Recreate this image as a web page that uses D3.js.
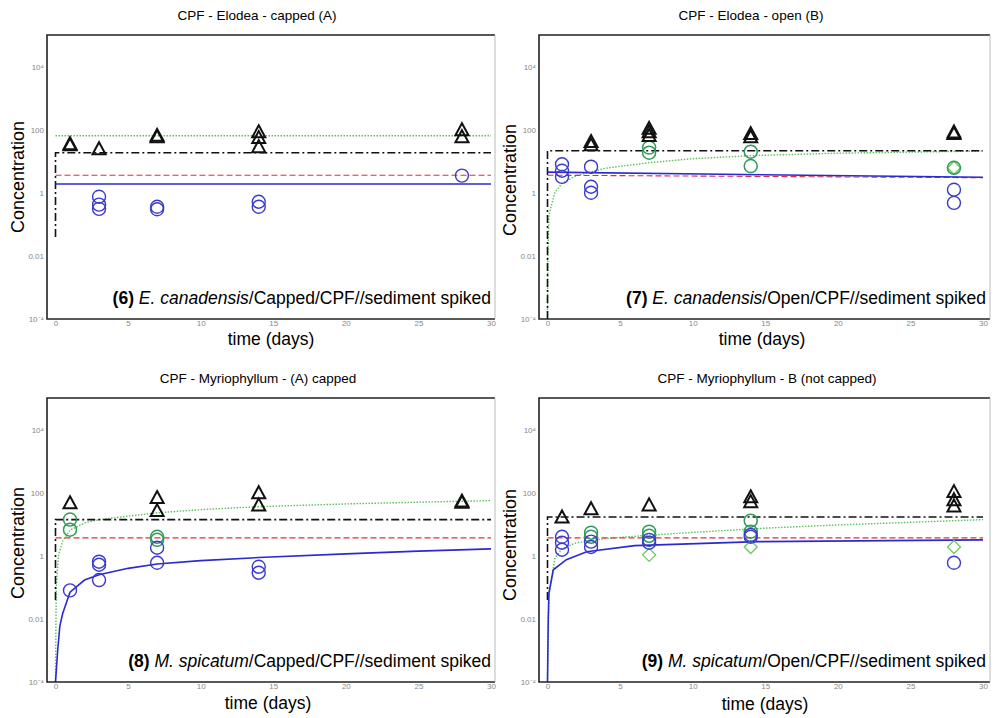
<!DOCTYPE html>
<html>
<head>
<meta charset="utf-8">
<script src="https://cdn.jsdelivr.net/npm/d3@7/dist/d3.min.js"></script>
<style>
  body { margin: 0; background: #fff; }
  text { font-family: "Liberation Sans", Arial, Helvetica, sans-serif; }
</style>
</head>
<body>
<svg id="chart" width="994" height="718"></svg>
<script>
/*--------------------------------------------------------------------------------
----- DATA ([time in days, concentration])
--------------------------------------------------------------------------------*/

// Axis ticks
const xTickValues = [0, 5, 10, 15, 20, 25, 30];
const yTickValues = [1e-4, 0.01, 1, 100, 1e4];
const yTickLabels = ["10⁻⁴", "0.01", "1", "100", "10⁴"];

// Panel texts
const panelTitles = [
    "CPF - Elodea - capped (A)",
    "CPF - Elodea - open (B)",
    "CPF - Myriophyllum -  (A) capped",
    "CPF - Myriophyllum -  B (not capped)"
];
const panelNumbers = ["(6)", "(7)", "(8)", "(9)"];
const panelSpecies = ["E. canadensis", "E. canadensis", "M. spicatum", "M. spicatum"];
const panelRest = ["/Capped/CPF//sediment spiked", "/Open/CPF//sediment spiked",
    "/Capped/CPF//sediment spiked", "/Open/CPF//sediment spiked"];

// (6) Elodea capped
const tri6 = [[1, 33], [1, 36], [3, 25], [7, 60], [7, 66], [14, 29], [14, 56], [14, 86], [28, 60], [28, 100]];
const circ6 = [[3, 0.31], [3, 0.42], [3, 0.75], [7, 0.30], [7, 0.36], [14, 0.36], [14, 0.52], [28, 3.5]];
const gcirc6 = [];
const gdiam6 = [];
const black6 = [[0, 0.04], [0, 18.6], [30, 18.6]];
const red6 = [[0, 3.6], [30, 3.6]];
const blue6 = [[0, 1.9], [30, 1.9]];
const green6 = [[0, 64], [30, 64]];

// (7) Elodea open
const tri7 = [[3, 33], [3, 42], [7, 65], [7, 86], [7, 110], [14, 60], [14, 75], [28, 75], [28, 85]];
const circ7 = [[1, 3.2], [1, 5], [1, 8], [3, 1.0], [3, 1.55], [3, 6.7], [28, 0.48], [28, 1.25]];
const gcirc7 = [[7, 18.6], [7, 27], [14, 7], [14, 20], [28, 6.2]];
const gdiam7 = [[28, 6.2]];
const black7 = [[0, 1e-4], [0, 21.5], [30, 21.5]];
const red7 = [[0, 3.6], [30, 3.0]];
const blue7 = [[0, 4.5], [30, 3.1]];
const green7 = [[0, 1e-4], [0.03, 0.01], [0.1, 0.2], [0.5, 1], [1, 2], [2, 3.5], [4, 6], [7, 9],
    [10, 12], [14, 15], [20, 18], [30, 21]];

// (8) Myriophyllum capped
const tri8 = [[1, 48], [7, 27], [7, 70], [14, 41], [14, 100], [28, 50], [28, 54]];
const circ8 = [[1, 0.08], [3, 0.17], [3, 0.52], [3, 0.65], [7, 0.6], [7, 1.8], [14, 0.29], [14, 0.45]];
const gcirc8 = [[1, 6.7], [1, 14], [7, 3.2], [7, 4]];
const gdiam8 = [];
const black8 = [[0, 0.04], [0, 14], [30, 14]];
const red8 = [[0, 3.7], [30, 3.7]];
const blue8 = [[0, 1e-4], [0.15, 0.001], [0.3, 0.006], [0.5, 0.015], [1, 0.07], [2, 0.17], [3, 0.25],
    [5, 0.4], [7, 0.55], [10, 0.7], [14, 0.88], [20, 1.15], [25, 1.4], [30, 1.65]];
const green8 = [[0, 1e-4], [0.05, 0.1], [0.2, 1], [0.5, 3], [1, 6.5], [2, 11], [3, 14], [5, 18],
    [7, 23], [10, 29], [14, 36], [20, 44], [25, 50], [30, 56]];

// (9) Myriophyllum open
const tri9 = [[1, 17], [3, 31], [7, 41], [14, 52], [14, 74], [28, 38], [28, 60], [28, 108]];
const circ9 = [[1, 1.55], [1, 2.6], [1, 4], [3, 1.9], [3, 2.8], [7, 2.6], [7, 3.2], [14, 4], [14, 4.6], [28, 0.6]];
const gcirc9 = [[3, 4], [3, 5.4], [7, 4.3], [7, 5.8], [14, 5.8], [14, 13]];
const gdiam9 = [[7, 1.07], [14, 1.9], [28, 1.9]];
const black9 = [[0, 0.04], [0, 17], [30, 17]];
const red9 = [[0, 3.7], [30, 3.7]];
const blue9 = [[0, 1e-4], [0.05, 0.01], [0.1, 0.067], [0.4, 0.36], [1.3, 0.75], [2.7, 1.34], [6, 2.1],
    [14.5, 2.8], [30, 3.2]];
const green9 = [[0, 1e-4], [0.1, 0.05], [0.5, 0.8], [1, 1.7], [2, 2.6], [4, 3.5], [7, 4.5], [10, 5.5],
    [15, 7.5], [20, 9.5], [25, 11.5], [30, 14]];

/*--------------------------------------------------------------------------------
----- LAYOUT
--------------------------------------------------------------------------------*/

const panels = [
    { left: 47, top: 35, bottom: 319, right: 495, tri: tri6, circ: circ6, gcirc: gcirc6, gdiam: gdiam6,
      black: black6, red: red6, blue: blue6, green: green6,
      titleX: 257, timeX: 271, timeY: 345, concX: 18, concY: 177 },
    { left: 539, top: 35, bottom: 319, right: 990, tri: tri7, circ: circ7, gcirc: gcirc7, gdiam: gdiam7,
      black: black7, red: red7, blue: blue7, green: green7,
      titleX: 751, timeX: 762, timeY: 345, concX: 510, concY: 180 },
    { left: 47, top: 398, bottom: 682, right: 495, tri: tri8, circ: circ8, gcirc: gcirc8, gdiam: gdiam8,
      black: black8, red: red8, blue: blue8, green: green8,
      titleX: 258, timeX: 268, timeY: 709, concX: 18, concY: 543 },
    { left: 539, top: 398, bottom: 682, right: 990, tri: tri9, circ: circ9, gcirc: gcirc9, gdiam: gdiam9,
      black: black9, red: red9, blue: blue9, green: green9,
      titleX: 767, timeX: 765, timeY: 710, concX: 510, concY: 545 }
];

const svg = d3.select("#chart");

panels.forEach(function (p, i) {
    const g = svg.append("g");

    // Scales for this panel
    const x = d3.scaleLinear().domain([0, 30]).range([p.left + 8.5, p.left + 444]);
    const y = d3.scaleLog().domain([1e-4, 1e5]).range([p.bottom, p.top]);

    // Clip so the model curves stay inside the box
    const clipId = "clip" + i;
    svg.append("clipPath").attr("id", clipId)
        .append("rect")
        .attr("x", p.left).attr("y", p.top)
        .attr("width", p.right - p.left).attr("height", p.bottom - p.top);

    // Title
    g.append("text")
        .attr("x", p.titleX)
        .attr("y", p.top - 15)
        .attr("text-anchor", "middle")
        .style("font-size", "13.5px")
        .text(panelTitles[i]);

    // Axes (tick labels only, small and grey)
    const xAxis = g.append("g")
        .attr("transform", "translate(0," + p.bottom + ")")
        .call(d3.axisBottom(x).tickValues(xTickValues).tickSize(0).tickPadding(1));
    xAxis.select(".domain").remove();
    xAxis.selectAll("text").style("font-size", "8px").attr("fill", "#888");

    const yAxis = g.append("g")
        .attr("transform", "translate(" + p.left + ",0)")
        .call(d3.axisLeft(y).tickValues(yTickValues).tickSize(0).tickPadding(3)
            .tickFormat(function (d, k) { return yTickLabels[k]; }));
    yAxis.select(".domain").remove();
    yAxis.selectAll("text").style("font-size", "8px").attr("fill", "#888");

    // Model lines
    const line = d3.line()
        .x(function (d) { return x(d[0]); })
        .y(function (d) { return y(d[1]); });
    const lines = g.append("g").attr("clip-path", "url(#" + clipId + ")");

    lines.append("path").datum(p.green)
        .attr("d", line).attr("fill", "none")
        .attr("stroke", "#5cc05c").attr("stroke-width", 1.4)
        .attr("stroke-dasharray", "1.5,1.5");
    lines.append("path").datum(p.black)
        .attr("d", line).attr("fill", "none")
        .attr("stroke", "#111").attr("stroke-width", 1.6)
        .attr("stroke-dasharray", "8,3,2,3");
    lines.append("path").datum(p.red)
        .attr("d", line).attr("fill", "none")
        .attr("stroke", "#e0303a").attr("stroke-width", 1.1)
        .attr("stroke-dasharray", "6,3");
    lines.append("path").datum(p.blue)
        .attr("d", line).attr("fill", "none")
        .attr("stroke", "#2a2ad0").attr("stroke-width", 1.6);

    // Data markers
    const marks = g.append("g");

    marks.selectAll(".gdiam").data(p.gdiam).enter()
        .append("path").attr("class", "gdiam")
        .attr("transform", function (d) { return "translate(" + x(d[0]) + "," + y(d[1]) + ")"; })
        .attr("d", "M0,-6.5L6.5,0L0,6.5L-6.5,0Z")
        .attr("fill", "none").attr("stroke", "#6ccc5c").attr("stroke-width", 1.3);

    marks.selectAll(".gcirc").data(p.gcirc).enter()
        .append("circle").attr("class", "gcirc")
        .attr("cx", function (d) { return x(d[0]); })
        .attr("cy", function (d) { return y(d[1]); })
        .attr("r", 6.5)
        .attr("fill", "none").attr("stroke", "#2f9a5a").attr("stroke-width", 1.5);

    marks.selectAll(".circ").data(p.circ).enter()
        .append("circle").attr("class", "circ")
        .attr("cx", function (d) { return x(d[0]); })
        .attr("cy", function (d) { return y(d[1]); })
        .attr("r", 6.5)
        .attr("fill", "none").attr("stroke", "#3a3acc").attr("stroke-width", 1.4);

    marks.selectAll(".tri").data(p.tri).enter()
        .append("path").attr("class", "tri")
        .attr("transform", function (d) { return "translate(" + x(d[0]) + "," + y(d[1]) + ")"; })
        .attr("d", "M0,-6.5L6.5,5.5L-6.5,5.5Z")
        .attr("fill", "none").attr("stroke", "#111").attr("stroke-width", 2);

    // Box: dark left/top/bottom, light right edge
    g.append("path")
        .attr("d", "M" + p.right + "," + p.top + "H" + p.left + "V" + p.bottom + "H" + p.right)
        .attr("fill", "none").attr("stroke", "#222").attr("stroke-width", 1.6);
    g.append("line")
        .attr("x1", p.right).attr("x2", p.right).attr("y1", p.top).attr("y2", p.bottom)
        .attr("stroke", "#bbb").attr("stroke-width", 1);

    // Panel annotation
    const note = g.append("text")
        .attr("x", p.right - 4)
        .attr("y", p.bottom - 15)
        .attr("text-anchor", "end")
        .style("font-size", "17.5px");
    note.append("tspan").style("font-weight", "bold").text(panelNumbers[i] + " ");
    note.append("tspan").style("font-style", "italic").text(panelSpecies[i]);
    note.append("tspan").text(panelRest[i]);

    // Axis titles
    g.append("text")
        .attr("x", p.timeX)
        .attr("y", p.timeY)
        .attr("text-anchor", "middle")
        .style("font-size", "17.5px")
        .text("time (days)");
    g.append("text")
        .attr("transform", "translate(" + p.concX + "," + p.concY + ") rotate(-90)")
        .attr("text-anchor", "middle")
        .attr("dy", "0.35em")
        .style("font-size", "18px")
        .text("Concentration");
});
</script>
</body>
</html>
